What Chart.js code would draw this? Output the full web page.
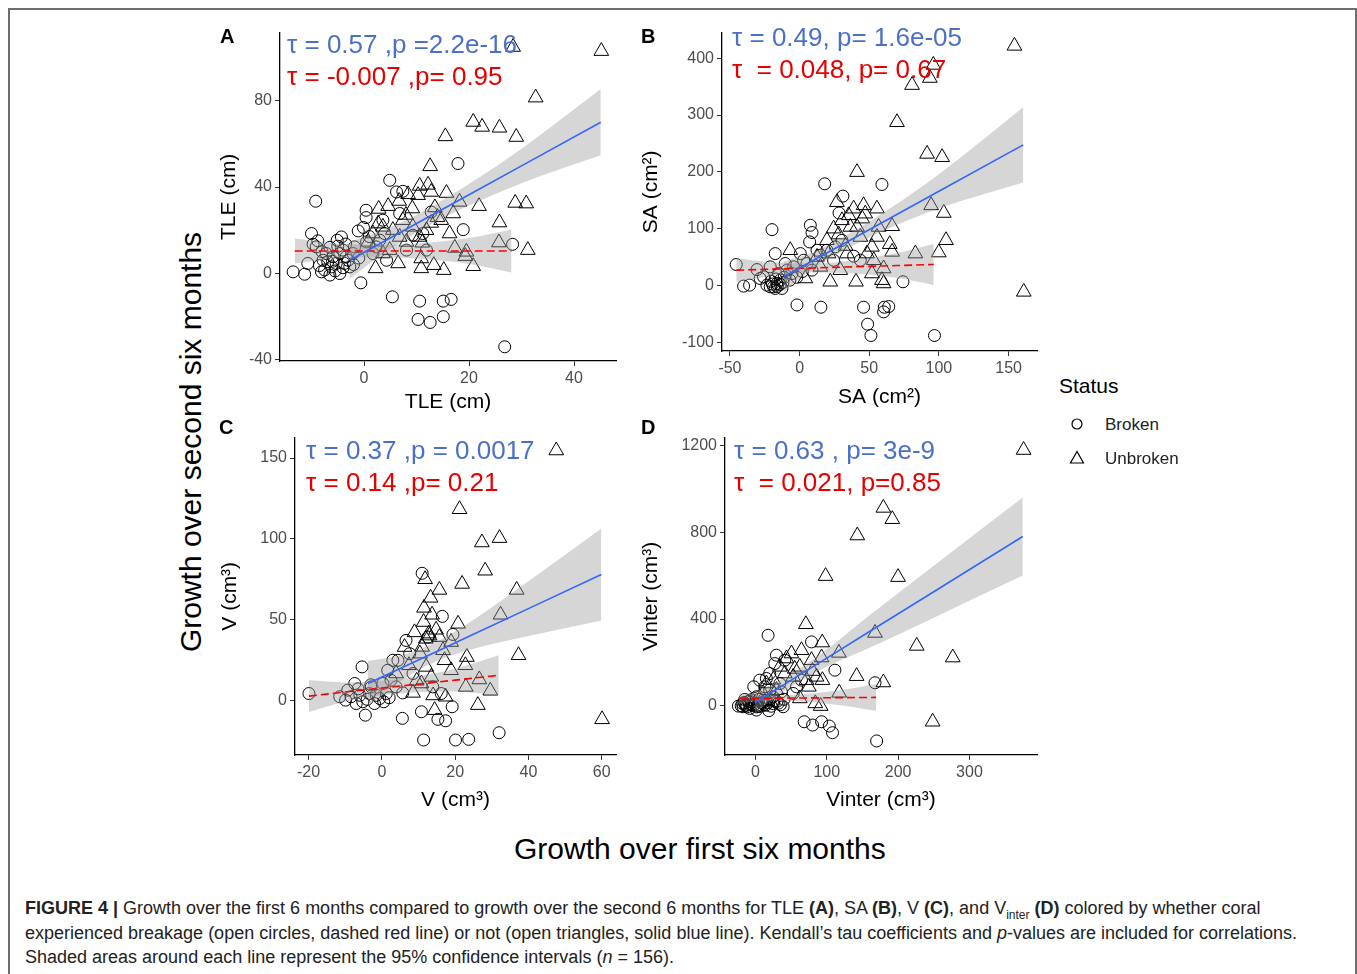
<!DOCTYPE html>
<html>
<head>
<meta charset="utf-8">
<script src="https://cdn.jsdelivr.net/npm/chart.js@4.4.1/dist/chart.umd.min.js"></script>
<style>
  body { margin: 0; background: #fff; font-family: "Liberation Sans", Arial, sans-serif; }
  #page { position: relative; width: 1357px; height: 974px; overflow: hidden; background: #fff; }
  #frame { position: absolute; left: 8px; top: 8px; width: 1345px; height: 1000px; border: 2px solid #6e6e6e; }
  canvas { position: absolute; }
  .t { position: absolute; white-space: pre; line-height: 1; }
  .tau { font-size: 26px; }
  .blue { color: #4a70c8; }
  .red { color: #e60000; }
  .letter { font-size: 20px; font-weight: bold; color: #000; }
  .cap { position: absolute; left: 25px; font-size: 18px; line-height: 20px; color: #222; white-space: nowrap; }
</style>
</head>
<body>
<div id="page">
  <div id="frame"></div>

  <canvas id="panelA"></canvas>
  <canvas id="panelB"></canvas>
  <canvas id="panelC"></canvas>
  <canvas id="panelD"></canvas>

  <div class="t letter" style="left:220px;top:26px">A</div>
  <div class="t letter" style="left:641px;top:26px">B</div>
  <div class="t letter" style="left:219px;top:417px">C</div>
  <div class="t letter" style="left:641px;top:417px">D</div>

  <div class="t tau blue" style="left:287px;top:31px">τ = 0.57 ,p =2.2e-16</div>
  <div class="t tau red" style="left:287px;top:63px">τ = -0.007 ,p= 0.95</div>
  <div class="t tau blue" style="left:732px;top:24px">τ = 0.49, p= 1.6e-05</div>
  <div class="t tau red" style="left:732px;top:56px">τ  = 0.048, p= 0.67</div>
  <div class="t tau blue" style="left:306px;top:437px">τ = 0.37 ,p = 0.0017</div>
  <div class="t tau red" style="left:306px;top:469px">τ = 0.14 ,p= 0.21</div>
  <div class="t tau blue" style="left:734px;top:437px">τ = 0.63 , p= 3e-9</div>
  <div class="t tau red" style="left:734px;top:469px">τ  = 0.021, p=0.85</div>

  <div id="ytitle" class="t" style="font-size:30px;color:#000">Growth over second six months</div>
  <div id="xtitle" class="t" style="font-size:30px;color:#000">Growth over first six months</div>

  <div class="t" style="left:1059px;top:375px;font-size:21px;color:#000">Status</div>
  <svg style="position:absolute;left:1070px;top:417px" width="14" height="14"><circle cx="7" cy="7" r="5" fill="none" stroke="#000" stroke-width="1.2"/></svg>
  <svg style="position:absolute;left:1069px;top:450px" width="16" height="15"><polygon points="8,1.5 1.5,13 14.5,13" fill="none" stroke="#000" stroke-width="1.2"/></svg>
  <div class="t" style="left:1105px;top:416px;font-size:17px;color:#222">Broken</div>
  <div class="t" style="left:1105px;top:450px;font-size:17px;color:#222">Unbroken</div>

  <div class="cap" style="top:898px"><b>FIGURE 4 |</b> Growth over the first 6 months compared to growth over the second 6 months for TLE <b>(A)</b>, SA <b>(B)</b>, V <b>(C)</b>, and V<sub style="font-size:12px">inter</sub> <b>(D)</b> colored by whether coral</div>
  <div class="cap" style="top:923px">experienced breakage (open circles, dashed red line) or not (open triangles, solid blue line). Kendall’s tau coefficients and <i>p</i>-values are included for correlations.</div>
  <div class="cap" style="top:947px">Shaded areas around each line represent the 95% confidence intervals (<i>n</i> = 156).</div>
</div>

<script>
// ---- panel A : TLE ----
var xTicksA = [0, 20, 40];
var yTicksA = [-40, 0, 40, 80];
var brokenA = [[-13.5,0.6],[-11.3,-0.5],[-9.2,33.4],[-10.0,18.4],[-9.7,13.4],[-8.8,15.0],[-10.7,4.5],[-8.1,0.6],[-6.5,-0.9],[-4.6,-0.2],[-5.3,4.5],[-4.6,9.1],[-4.3,16.8],[-5.1,15.3],[-7.2,9.1],[-7.8,6.0],[-6.2,2.9],[-3.7,4.5],[-3.4,7.6],[-2.1,9.1],[-1.8,12.2],[-0.6,-4.5],[-1.1,19.6],[-0.1,21.2],[0.4,29.2],[0.4,25.8],[4.9,43.1],[6.2,37.7],[7.4,38.0],[6.8,27.7],[5.4,-11.0],[10.6,-13.0],[10.3,-21.5],[12.6,-22.9],[15.1,-20.2],[15.1,-13.0],[16.6,-12.2],[26.8,-34.2],[17.9,50.9],[18.9,20.2],[28.3,13.4],[4.3,6.0],[11.2,18.4],[9.3,17.6],[1.7,9.1],[2.3,12.2],[3.0,15.3],[3.6,24.6],[3.9,18.4],[11.9,10.7],[8.1,10.7],[-9.1,12.2],[-4.0,10.7],[-5.9,7.6],[-2.7,2.9],[-6.9,5.3],[12.8,28.4],[-8.5,3.5],[-7.5,1.5],[-6.0,5.5],[-5.5,1.0],[-4.0,2.5],[-3.0,6.0],[-2.0,4.0],[-1.0,7.0],[-5.0,12.5],[-3.5,13.5],[-8.0,10.0],[-6.5,12.0],[0.5,14.5],[1.0,17.0]];
var unbrokenA = [[45.2,103.1],[28.4,105],[32.7,81.5],[20.8,70.2],[22.5,67.9],[25.8,67.5],[29.0,63.2],[15.5,63.5],[12.6,49.6],[10.6,40.5],[12.2,41.0],[12.8,37.7],[15.7,37.2],[18.2,33.1],[21.9,31.1],[28.8,32.6],[30.9,32.3],[2.8,29.8],[4.6,31.1],[6.7,33.5],[8.4,36.6],[10.3,36.2],[9.2,30.0],[17.0,27.7],[25.8,23.5],[14.7,24.6],[12.8,23.3],[7.4,24.6],[2.7,23.0],[16.3,18.4],[6.8,16.8],[10.6,16.8],[11.1,14.1],[25.7,14.2],[17.3,11.7],[19.5,9.9],[31.2,10.7],[19.3,7.9],[4.9,10.7],[3.6,9.1],[10.9,6.8],[6.5,4.5],[2.2,2.2],[10.9,2.2],[13.3,3.7],[15.2,1.4],[20.8,3.2],[0.8,14.5],[1.7,18.4],[3.6,21.5],[9.3,21.5],[11.9,19.9],[8.1,14.5],[5.5,20.0],[8.0,27.0],[13.5,30.5],[14.0,26.0]];
var fitBrokenXA = [-13.2, -5, 2, 10, 20, 28.1];
var fitBrokenA = [10.3, 10.3, 10.3, 10.3, 10.3, 10.3];
var loBrokenA = [4.5, 6.8, 7.5, 6.8, 4.3, 0.3];
var hiBrokenA = [16.1, 13.8, 13.1, 13.8, 16.3, 20.3];
var fitUnbrokenXA = [-2.7, 5, 12, 20, 30, 45.1];
var fitUnbrokenA = [6.0, 16.3, 25.7, 36.4, 49.8, 70.1];
var loUnbrokenA = [-2.5, 11.3, 21.7, 31.4, 41.8, 54.7];
var hiUnbrokenA = [14.5, 21.3, 29.7, 41.4, 57.8, 85.5];

// ---- panel B : SA ----
var xTicksB = [-50, 0, 50, 100, 150];
var yTicksB = [-100, 0, 100, 200, 300, 400];
var brokenB = [[-45.5,37.4],[-40.2,-0.5],[-35.9,1.2],[-30.6,28.5],[-19.8,98.7],[-17.5,56.6],[-21.1,33.3],[-25.9,15.8],[-23.5,1.2],[-18.7,-1.7],[-16.3,4.1],[-13.9,9.9],[-15.1,21.6],[-28.3,12.9],[-10.3,39.1],[-1.9,-33.6],[7.7,106.4],[8.9,93.6],[7.2,77.1],[15.3,-37.6],[18.0,179.2],[31.1,157.6],[28.3,127.9],[59.1,178.0],[45.9,-37.6],[48.8,-67.4],[51.2,-87.3],[60.3,-45.8],[60.8,-37.6],[64.0,-36.4],[96.8,-87.3],[74.2,7.1],[38.8,52.0],[0.5,56.6],[5.3,39.1],[12.5,62.5],[19.6,62.5],[24.4,44.9],[-5.5,21.6],[-9.1,27.5],[-4.3,33.3],[2.9,44.9],[8.9,27.5],[14.9,53.8],[30.4,80.0],[25.6,68.4],[43.6,44.9],[-21.1,-1.7],[-17.5,-4.6],[-12.7,-4.6],[-19.5,3.0],[-16.0,-1.0],[-14.0,2.5],[-12.0,6.0],[-20.5,8.0],[-17.0,12.0],[-11.0,15.0],[-7.0,10.0],[-2.0,15.0],[2.0,25.0]];
var unbrokenB = [[154.2,421.5],[160.9,-10.6],[96.0,388],[93.5,365],[80.7,352.6],[69.9,287.3],[91.5,231.7],[102.3,225.9],[41.2,199.7],[94.4,141.3],[103.5,127.9],[105.1,80.0],[99.9,58.4],[83.1,56.6],[66.4,104.6],[64.7,73.1],[66.4,59.6],[59.1,9.9],[60.3,4.1],[60.3,30.4],[51.9,21.6],[53.2,44.9],[51.9,68.4],[55.5,85.8],[56.7,103.4],[55.5,135.5],[45.9,141.3],[47.1,126.7],[38.8,135.5],[35.2,123.8],[36.4,103.4],[26.8,146.9],[30.4,115.0],[24.4,100.4],[19.6,80.0],[22.0,7.1],[40.5,7.1],[29.2,27.5],[34.0,56.6],[-6.7,62.5],[4.1,12.9],[12.5,50.7],[43.6,85.8],[48.4,56.6],[14.9,33.3],[41.2,103.4],[20.8,56.6],[28.0,90.0],[33.0,70.0],[45.0,118.0]];
var fitBrokenXB = [-45.5, -20, 10, 40, 70, 96.3];
var fitBrokenB = [27.5, 29.3, 31.4, 33.5, 35.6, 37.5];
var loBrokenB = [6.5, 17.3, 23.4, 21.5, 13.6, 1.5];
var hiBrokenB = [48.5, 41.3, 39.4, 45.5, 57.6, 73.5];
var fitUnbrokenXB = [-11.5, 10, 30, 60, 100, 160.5];
var fitUnbrokenB = [15.8, 44.8, 71.7, 112.2, 166.1, 247.6];
var loUnbrokenB = [-11.2, 30.8, 59.7, 96.2, 136.1, 181.6];
var hiUnbrokenB = [42.8, 58.8, 83.7, 128.2, 196.1, 313.6];

// ---- panel C : V ----
var xTicksC = [-20, 0, 20, 40, 60];
var yTicksC = [0, 50, 100, 150];
var brokenC = [[-19.9,4.1],[-5.4,20.6],[-4.5,-9.3],[-7.4,10.3],[-9.9,0],[-8.4,2.1],[-7.0,-2.1],[-5.2,-1.0],[-3.4,4.1],[-2.0,-2.1],[-0.6,1.0],[1.2,4.1],[2.5,12.3],[3.9,8.2],[5.7,4.5],[5.6,-11.3],[6.6,37.0],[4.4,24.7],[1.6,18.5],[8.5,16.5],[10.8,-7.2],[11.4,-24.7],[11.0,78.6],[16.5,51.9],[15.3,-11.9],[17.4,-12.8],[19.2,-4.1],[19.4,40.7],[20.1,-24.7],[23.7,-24.3],[32.0,-20.2],[12.6,39.1],[-2.9,8.2],[0.3,10.3],[3.0,24.7],[7.6,28.8],[16.2,4.1],[13.9,8.2],[-11.5,2.1],[-9.3,6.2],[-6.0,3.0],[-4.0,0.5],[-1.5,3.0],[0.5,-1.0],[2.0,1.5],[-6.5,7.0],[-3.0,9.5]];
var unbrokenC = [[47.6,154.7],[21.2,118.3],[27.3,97.7],[32.1,100.4],[28.2,80.2],[21.9,72.0],[11.8,74.9],[15.7,68.3],[36.8,68.3],[13.3,63.4],[11.5,57.2],[32.4,52.9],[13.7,52.9],[11.4,48.4],[20.8,47.3],[8.9,42.0],[12.8,41.2],[14.8,43.6],[37.3,27.8],[23.2,26.7],[22.8,21.6],[18.9,18.5],[16.7,30.9],[26.6,12.8],[22.9,8.2],[29.6,5.8],[26.2,-3.1],[60.1,-11.9],[14.4,-6.2],[14.0,2.9],[17.4,2.1],[8.5,4.5],[10.8,10.3],[13.5,14.4],[7.4,21.6],[10.4,28.8],[17.1,24.7],[18.9,36.0],[3.9,16.5],[6.2,32.9],[15.7,39.1],[12.1,20.6],[12.0,38.0],[13.0,40.0],[11.0,33.0],[9.5,12.0]];
var fitBrokenXC = [-19.9, -10, 0, 10, 20, 31.9];
var fitBrokenC = [2.5, 5.0, 7.5, 9.9, 12.4, 15.4];
var loBrokenC = [-7.3, -1, 3, 4.9, 5.4, 3.0];
var hiBrokenC = [12.3, 11, 12, 14.9, 19.4, 27.8];
var fitUnbrokenXC = [-3.8, 5, 15, 25, 40, 59.9];
var fitUnbrokenC = [10.3, 19.6, 30.2, 40.8, 56.7, 77.8];
var loUnbrokenC = [-3.7, 11.6, 24.2, 31.8, 39.7, 49.3];
var hiUnbrokenC = [24.3, 27.6, 36.2, 49.8, 73.7, 106.3];

// ---- panel D : Vinter ----
var xTicksD = [0, 100, 200, 300];
var yTicksD = [0, 400, 800, 1200];
var brokenD = [[-23.9,-1.4],[-15.0,29.3],[-5.7,18.6],[3.7,-1.4],[17.7,324.8],[18.7,-22.4],[38.8,-4.4],[-2.4,87.6],[6.0,118.2],[15.3,125.8],[29.4,233.1],[41.1,210.1],[57.6,87.6],[78.6,294.5],[68.3,-73.4],[80.1,-88.7],[92.7,-73.4],[103.5,-93.3],[108.0,-124.0],[111.4,164.2],[167.6,106.2],[169.9,-162.0],[10.7,26.2],[24.8,41.5],[36.3,64.5],[52.9,56.9],[-12.7,1.8],[-8.0,-12.0],[1.4,-19.6],[-17.4,-4.4],[27.1,194.8],[20.0,72.2],[1.4,41.5],[13.1,87.6],[20.0,148.8],[34.2,102.7],[64.5,118.2],[-18,10],[-10,20],[-5,5],[0,10],[5,30],[8,15],[12,5],[15,25],[-20,0],[-12,-5],[2,-5],[20,30],[25,10],[30,20],[35,5],[40,30],[-14,3],[-8,8],[-3,0],[3,4],[6,-3],[10,12],[14,2],[18,15],[22,-2],[26,22],[32,12],[-16,15],[-6,28]];
var unbrokenD = [[375.9,1178.7],[179.3,912.0],[191.9,859.9],[142.8,784.7],[98.3,597.7],[199.9,593],[167.6,335.8],[70.7,375.7],[226.1,276.0],[276.6,222.4],[93.6,291.4],[117.0,243.8],[141.8,136.5],[179.3,107.4],[117.4,60.0],[248.4,-73.4],[91.4,-1.3],[83.9,11.0],[93.9,118.2],[62.2,179.5],[50.5,240.8],[64.5,256.1],[78.6,210.1],[92.7,222.4],[85.7,133.5],[74.9,87.4],[62.2,33.9],[34.2,179.5],[43.5,217.8],[15.3,102.7],[29.4,72.2],[71.6,118.2],[10.7,56.9],[41.1,148.8],[52.9,133.5],[25.0,120.0],[55.0,170.0],[80.0,160.0]];
var fitBrokenXD = [-23, 0, 30, 70, 120, 169];
var fitBrokenD = [34, 34.6, 35.3, 36.3, 37.5, 38.7];
var loBrokenD = [10, 19.6, 23.3, 18.3, 2.5, -23.3];
var hiBrokenD = [58, 49.6, 47.3, 54.3, 72.5, 100.7];
var fitUnbrokenXD = [-1, 40, 100, 160, 250, 374.7];
var fitUnbrokenD = [14, 97.6, 219.9, 342.3, 525.8, 780];
var loUnbrokenD = [-32, 67.6, 179.9, 267.3, 405.8, 600];
var hiUnbrokenD = [60, 127.6, 259.9, 417.3, 645.8, 960];

var FONT = '"Liberation Sans", Arial, sans-serif';
var BAND = 'rgba(153,153,153,0.4)';

function pts(arr) { return arr.map(function (p) { return { x: p[0], y: p[1] }; }); }
function zip(xs, ys) { return xs.map(function (x, i) { return { x: x, y: ys[i] }; }); }

function band(xs, hi, lo) {
  return [
    { type: 'line', data: zip(xs, hi), fill: '+1', backgroundColor: BAND, borderColor: 'rgba(0,0,0,0)',
      borderWidth: 1, pointRadius: 0, cubicInterpolationMode: 'monotone', order: 5 },
    { type: 'line', data: zip(xs, lo), fill: false, borderColor: 'rgba(0,0,0,0)',
      borderWidth: 1, pointRadius: 0, cubicInterpolationMode: 'monotone', order: 5 }
  ];
}

function axis(min, max, ticks, title, size) {
  return {
    type: 'linear', min: min, max: max,
    afterBuildTicks: function (s) { s.ticks = ticks.map(function (v) { return { value: v }; }); },
    afterFit: function (s) { if (s.isHorizontal()) s.height = size; else s.width = size; },
    grid: { drawOnChartArea: false, drawTicks: true, tickLength: 5, color: '#333', lineWidth: 1 },
    border: { display: true, color: '#000', width: 1.3 },
    ticks: { color: '#4d4d4d', font: { size: 16, family: FONT }, padding: 3, maxRotation: 0, autoSkip: false,
      callback: function (v) { return String(v); } },
    title: { display: true, text: title, color: '#000', font: { size: 21, family: FONT }, padding: 0 }
  };
}

function panel(id, box, p) {
  var cv = document.getElementById(id);
  var w = box.yW + (box.r - box.l) + 10;
  var h = 12 + (box.b - box.t) + box.xH;
  cv.width = w; cv.height = h;
  cv.style.left = (box.l - box.yW) + 'px';
  cv.style.top = (box.t - 12) + 'px';
  var datasets = [
    { type: 'scatter', data: pts(p.broken), pointStyle: 'circle', pointRadius: 6, borderColor: '#000',
      borderWidth: 1, backgroundColor: 'rgba(0,0,0,0)', order: 10 },
    { type: 'scatter', data: pts(p.unbroken), pointStyle: 'triangle', pointRadius: 8.5, borderColor: '#000',
      borderWidth: 1, backgroundColor: 'rgba(0,0,0,0)', order: 10 }
  ];
  datasets = datasets.concat(band(p.ubX, p.ubHi, p.ubLo), band(p.bX, p.bHi, p.bLo));
  datasets.push({ type: 'line', data: zip(p.ubX, p.ubFit), borderColor: '#3366ff', borderWidth: 1.6,
    pointRadius: 0, fill: false, order: 1 });
  datasets.push({ type: 'line', data: zip(p.bX, p.bFit), borderColor: '#ff0000', borderWidth: 1.6,
    borderDash: [8, 4], pointRadius: 0, fill: false, order: 1 });

  new Chart(cv, {
    type: 'scatter',
    data: { datasets: datasets },
    options: {
      responsive: false, animation: false,
      layout: { padding: { top: 12, right: 10, left: 0, bottom: 0 } },
      plugins: { legend: { display: false }, tooltip: { enabled: false } },
      scales: {
        x: axis(box.xMin, box.xMax, p.xTicks, p.xTitle, box.xH),
        y: Object.assign(axis(box.yMin, box.yMax, p.yTicks, p.yTitle, box.yW), { position: 'left' })
      }
    }
  });
}

panel('panelA', { l: 280, t: 32, r: 616, b: 361, yW: 63, xH: 54, xMin: -16.0, xMax: 48.0, yMin: -40.8, yMax: 111.7 },
  { broken: brokenA, unbroken: unbrokenA, xTicks: xTicksA, yTicks: yTicksA, xTitle: 'TLE (cm)', yTitle: 'TLE (cm)',
    bX: fitBrokenXA, bFit: fitBrokenA, bLo: loBrokenA, bHi: hiBrokenA,
    ubX: fitUnbrokenXA, ubFit: fitUnbrokenA, ubLo: loUnbrokenA, ubHi: hiUnbrokenA });
panel('panelB', { l: 722, t: 32, r: 1037, b: 351, yW: 83, xH: 59, xMin: -55.7, xMax: 170.4, yMin: -114.5, yMax: 444.8 },
  { broken: brokenB, unbroken: unbrokenB, xTicks: xTicksB, yTicks: yTicksB, xTitle: 'SA (cm²)', yTitle: 'SA (cm²)',
    bX: fitBrokenXB, bFit: fitBrokenB, bLo: loBrokenB, bHi: hiBrokenB,
    ubX: fitUnbrokenXB, ubFit: fitUnbrokenB, ubLo: loUnbrokenB, ubHi: hiUnbrokenB });
panel('panelC', { l: 295, t: 437, r: 616, b: 755, yW: 77, xH: 58, xMin: -23.7, xMax: 63.9, yMin: -34.0, yMax: 162.7 },
  { broken: brokenC, unbroken: unbrokenC, xTicks: xTicksC, yTicks: yTicksC, xTitle: 'V (cm³)', yTitle: 'V (cm³)',
    bX: fitBrokenXC, bFit: fitBrokenC, bLo: loBrokenC, bHi: hiBrokenC,
    ubX: fitUnbrokenXC, ubFit: fitUnbrokenC, ubLo: loUnbrokenC, ubHi: hiUnbrokenC });
panel('panelD', { l: 725, t: 437, r: 1037, b: 755, yW: 86, xH: 58, xMin: -42.7, xMax: 394.7, yMin: -226.7, yMax: 1236 },
  { broken: brokenD, unbroken: unbrokenD, xTicks: xTicksD, yTicks: yTicksD, xTitle: 'Vinter (cm³)', yTitle: 'Vinter (cm³)',
    bX: fitBrokenXD, bFit: fitBrokenD, bLo: loBrokenD, bHi: hiBrokenD,
    ubX: fitUnbrokenXD, ubFit: fitUnbrokenD, ubLo: loUnbrokenD, ubHi: hiUnbrokenD });

// shared titles, centred on their measured positions
var yt = document.getElementById('ytitle');
yt.style.left = (191 - yt.offsetWidth / 2) + 'px';
yt.style.top = (442 - yt.offsetHeight / 2) + 'px';
yt.style.transform = 'rotate(-90deg)';
var xt = document.getElementById('xtitle');
xt.style.left = (700 - xt.offsetWidth / 2) + 'px';
xt.style.top = (849 - xt.offsetHeight / 2) + 'px';
</script>
</body>
</html>
